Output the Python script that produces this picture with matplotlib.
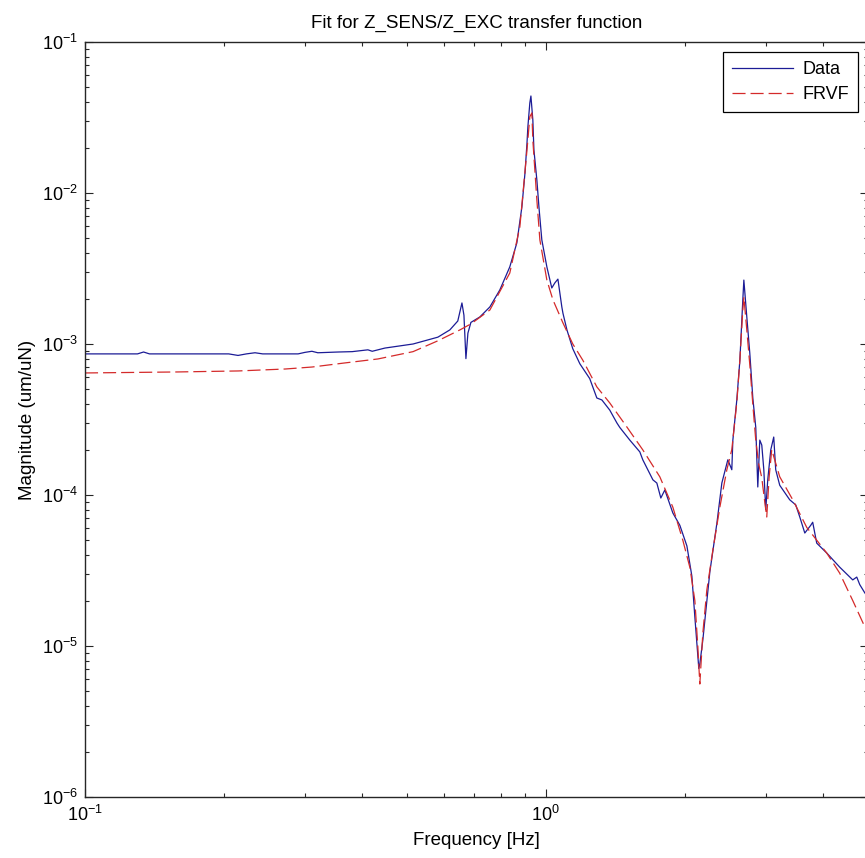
import matplotlib
matplotlib.use("Agg")
import matplotlib.pyplot as plt
from matplotlib.ticker import LogLocator, LogFormatterSciNotation, NullFormatter

plt.rcParams["font.family"] = ["Liberation Sans", "DejaVu Sans"]
plt.rcParams["mathtext.default"] = "regular"
plt.rcParams["axes.unicode_minus"] = False
plt.rcParams["lines.scale_dashes"] = False

TITLE = "Fit for Z_SENS/Z_EXC transfer function"
XLABEL = "Frequency [Hz]"
YLABEL = "Magnitude (um/uN)"

data_freq = [0.100, 0.130, 0.134, 0.138, 0.205, 0.2148, 0.224, 0.2338, 0.243, 0.290,
             0.300, 0.3107, 0.320, 0.354, 0.380, 0.411, 0.420, 0.4475, 0.515, 0.583,
             0.619, 0.644, 0.6575, 0.6641, 0.6707, 0.6774, 0.6876, 0.719, 0.756, 0.7945,
             0.835, 0.865, 0.887, 0.901, 0.910, 0.914, 0.923, 0.928, 0.937, 0.942,
             0.956, 0.966, 0.980, 1.005, 1.030, 1.046, 1.062, 1.083, 1.089, 1.111,
             1.144, 1.185, 1.245, 1.290, 1.323, 1.376, 1.426, 1.447, 1.521, 1.599,
             1.623, 1.707, 1.741, 1.776, 1.812, 1.886, 1.953, 2.023, 2.074, 2.105,
             2.126, 2.147, 2.158, 2.191, 2.269, 2.350, 2.409, 2.482, 2.532, 2.545,
             2.596, 2.636, 2.675, 2.689, 2.729, 2.770, 2.812, 2.854, 2.883, 2.912,
             2.941, 2.971, 3.000, 3.030, 3.076, 3.122, 3.153, 3.217, 3.381, 3.485,
             3.556, 3.646, 3.756, 3.793, 3.870, 4.068, 4.340, 4.633, 4.727, 4.798,
             4.920, 5.000]
data_mag = [8.6e-4, 8.6e-4, 8.85e-4, 8.6e-4, 8.6e-4, 8.4e-4, 8.6e-4, 8.75e-4, 8.6e-4, 8.6e-4,
            8.8e-4, 8.95e-4, 8.75e-4, 8.85e-4, 8.9e-4, 9.15e-4, 8.95e-4, 9.4e-4, 1.0e-3, 1.11e-3,
            1.24e-3, 1.42e-3, 1.87e-3, 1.55e-3, 8.0e-4, 1.18e-3, 1.39e-3, 1.51e-3, 1.76e-3, 2.28e-3,
            3.24e-3, 4.67e-3, 8.07e-3, 1.36e-2, 2.14e-2, 2.74e-2, 3.95e-2, 4.39e-2, 3.04e-2, 1.93e-2,
            1.22e-2, 8.07e-3, 4.89e-3, 3.24e-3, 2.35e-3, 2.54e-3, 2.69e-3, 1.76e-3, 1.60e-3, 1.24e-3,
            9.3e-4, 7.4e-4, 5.9e-4, 4.39e-4, 4.26e-4, 3.65e-4, 3.0e-4, 2.8e-4, 2.31e-4, 1.93e-4,
            1.71e-4, 1.26e-4, 1.20e-4, 9.55e-5, 1.08e-4, 7.6e-5, 6.3e-5, 4.6e-5, 2.9e-5, 1.56e-5,
            1.05e-5, 7.1e-6, 7.6e-6, 1.10e-5, 3.1e-5, 6.5e-5, 1.20e-4, 1.71e-4, 1.47e-4, 2.3e-4,
            4.26e-4, 7.8e-4, 1.96e-3, 2.65e-3, 1.51e-3, 8.7e-4, 4.4e-4, 2.8e-4, 1.13e-4, 2.31e-4,
            2.14e-4, 1.47e-4, 8.0e-5, 1.26e-4, 1.99e-4, 2.42e-4, 1.47e-4, 1.16e-4, 9.3e-5, 8.6e-5,
            7.15e-5, 5.6e-5, 6.3e-5, 6.6e-5, 4.8e-5, 4.13e-5, 3.33e-5, 2.74e-5, 2.86e-5, 2.55e-5,
            2.25e-5, 2.1e-5]

# FRVF fitted model
fit_freq = [0.100, 0.159, 0.215, 0.272, 0.311, 0.366, 0.432, 0.515, 0.583, 0.651,
            0.688, 0.756, 0.835, 0.878, 0.910, 0.923, 0.9325, 0.937, 0.956, 0.9705,
            1.005, 1.036, 1.089, 1.144, 1.203, 1.290, 1.376, 1.499, 1.623, 1.767,
            1.886, 1.983, 2.054, 2.105, 2.137, 2.158, 2.191, 2.235, 2.303, 2.385,
            2.470, 2.532, 2.596, 2.636, 2.675, 2.689, 2.729, 2.770, 2.812, 2.854,
            2.897, 2.941, 2.985, 3.015, 3.050, 3.091, 3.137, 3.217, 3.433, 3.682,
            4.068, 4.340, 4.633, 4.920, 5.000]
fit_mag = [6.43e-4, 6.53e-4, 6.63e-4, 6.83e-4, 7.04e-4, 7.49e-4, 7.96e-4, 8.9e-4, 1.05e-3, 1.24e-3,
           1.36e-3, 1.68e-3, 2.95e-3, 5.95e-3, 1.93e-2, 3.2e-2, 3.39e-2, 2.24e-2, 9.0e-3, 4.89e-3,
           2.65e-3, 1.96e-3, 1.38e-3, 1.0e-3, 7.8e-4, 5.2e-4, 4.07e-4, 2.82e-4, 1.99e-4, 1.32e-4,
           8.3e-5, 5.0e-5, 3.3e-5, 2.0e-5, 9.8e-6, 5.6e-6, 1.22e-5, 2.35e-5, 4.3e-5, 8.3e-5,
           1.47e-4, 2.0e-4, 4.1e-4, 7.8e-4, 1.68e-3, 2.05e-3, 1.24e-3, 7.3e-4, 4.0e-4, 2.3e-4,
           1.6e-4, 1.3e-4, 9.0e-5, 7.15e-5, 1.3e-4, 2.0e-4, 1.71e-4, 1.32e-4, 9.3e-5, 6.1e-5,
           4.13e-5, 3.04e-5, 2.0e-5, 1.34e-5, 1.22e-5]

W, H = 865, 858
fig = plt.figure(figsize=(W / 100, H / 100), dpi=100)
ax = fig.add_axes([85 / W, 1 - 797 / H, 783 / W, 755 / H])

ax.loglog(data_freq, data_mag, color="#1c1c96", lw=0.9, label="Data")
ax.loglog(fit_freq, fit_mag, color="#d42a2a", lw=0.9, dashes=(9.4, 3.6), label="FRVF")

ax.set_xlim(0.1, 5)
ax.set_ylim(1e-6, 1e-1)

for axis in (ax.xaxis, ax.yaxis):
    axis.set_major_locator(LogLocator(base=10))
    axis.set_minor_locator(LogLocator(base=10, subs=range(2, 10), numticks=50))
    axis.set_major_formatter(LogFormatterSciNotation())
    axis.set_minor_formatter(NullFormatter())

ax.tick_params(which="both", direction="in", top=True, right=True, labelsize=13,
               color="#262626", width=0.8)
ax.tick_params(which="major", length=5.8)
ax.tick_params(which="minor", length=2.9)
ax.tick_params(axis="x", pad=6)
ax.tick_params(axis="y", pad=5)
for sp in ax.spines.values():
    sp.set_color("#262626")
    sp.set_linewidth(1.0)

ax.set_title(TITLE, fontsize=13.5, pad=10)
ax.set_xlabel(XLABEL, fontsize=13.5, labelpad=5)
ax.set_ylabel(YLABEL, fontsize=13.5, labelpad=4)

leg = ax.legend(loc="upper right", bbox_to_anchor=(0.987, 0.987), borderaxespad=0,
                fontsize=13, handlelength=3.4, handletextpad=0.5, labelspacing=0.45,
                borderpad=0.5, fancybox=False, framealpha=1, edgecolor="black")
leg.get_frame().set_linewidth(0.9)

fig.savefig("out.png", dpi=100, facecolor="white")
